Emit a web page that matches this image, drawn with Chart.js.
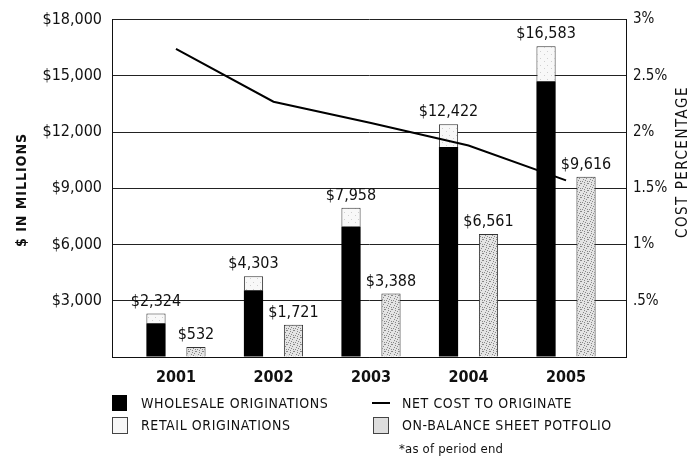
<!DOCTYPE html>
<html lang="en">
<head>
<meta charset="UTF-8">
<script src="https://cdn.jsdelivr.net/npm/chart.js"></script>
<title>Originations</title>
<style>
  body { margin: 0; background: #fff; }
  #wrap { position: relative; width: 700px; height: 459px; font-family: "DejaVu Sans Condensed", "Liberation Sans Narrow", sans-serif; color: #111; }
  canvas { position: absolute; left: 0; top: 0; }
  .key { position: absolute; }
  .lbl { position: absolute; font-size: 14px; letter-spacing: 0.6px; line-height: 16px; white-space: nowrap; }
</style>
</head>
<body>
<div id="wrap">
  <canvas id="chart" width="700" height="459"></canvas>

  <!-- legend -->
  <div class="key" style="left:112px;top:395px;width:15px;height:16px;background:#000;"></div>
  <div class="lbl" style="left:141px;top:395px;">WHOLESALE ORIGINATIONS</div>
  <div class="key" style="left:112px;top:417px;width:14px;height:15px;border:1px solid #444;background:#f7f7f7;"></div>
  <div class="lbl" style="left:141px;top:417px;">RETAIL ORIGINATIONS</div>
  <div class="key" style="left:372px;top:402px;width:18px;height:2px;background:#000;"></div>
  <div class="lbl" style="left:402px;top:395px;">NET COST TO ORIGINATE</div>
  <div class="key" style="left:373px;top:417px;width:14px;height:15px;border:1px solid #444;background:#dedede;"></div>
  <div class="lbl" style="left:402px;top:417px;">ON-BALANCE SHEET POTFOLIO</div>
  <div class="lbl" style="left:399px;top:441px;font-size:13px;letter-spacing:0.2px;">*as of period end</div>
</div>

<script>
// values ($ millions, cost in %)
const years = ['2001', '2002', '2003', '2004', '2005'];
const wholesale = [1800, 3560, 6960, 11200, 14710];
const retail = [524, 743, 998, 1222, 1873];
const onBalance = [532, 1721, 3388, 6561, 9616];
const netCost = [2.74, 2.27, 2.08, 1.88, 1.57];

const FONT = '"DejaVu Sans Condensed", "Liberation Sans Narrow", sans-serif';

// speckled fills like the printed halftone
function speckle(bg, dot, spots) {
    const c = document.createElement('canvas');
    c.width = 7; c.height = 7;
    const g = c.getContext('2d');
    g.fillStyle = bg;
    g.fillRect(0, 0, 7, 7);
    g.fillStyle = dot;
    spots.forEach(p => g.fillRect(p[0], p[1], 1, 1));
    return g.createPattern(c, 'repeat');
}
const ctx = document.getElementById('chart').getContext('2d');
const retailFill = speckle('#f8f8f8', '#cfcfcf', [[1, 2], [5, 5]]);
const balanceFill = speckle('#e4e4e4', '#888', [[0, 1], [3, 0], [5, 3], [2, 4], [6, 6], [1, 6], [4, 5], [6, 1], [3, 2]]);

const xy = arr => arr.map((v, i) => ({ x: i + 1, y: v }));

const dataLabels = {
    id: 'dataLabels',
    afterDatasetsDraw(chart) {
        const c = chart.ctx;
        c.save();
        c.font = '16px ' + FONT;
        c.fillStyle = '#111';
        c.textAlign = 'center';
        c.textBaseline = 'bottom';
        chart.getDatasetMeta(1).data.forEach((el, i) => {
            const total = wholesale[i] + retail[i];
            c.fillText('$' + total.toLocaleString('en-US'), el.x, el.y - 4);
        });
        chart.getDatasetMeta(2).data.forEach((el, i) => {
            c.fillText('$' + onBalance[i].toLocaleString('en-US'), el.x, el.y - 4);
        });
        c.restore();
    }
};

const axisTitles = {
    id: 'axisTitles',
    afterDraw(chart) {
        const c = chart.ctx;
        c.save();
        c.fillStyle = '#111';
        c.font = 'bold 14px ' + FONT;
        c.letterSpacing = '1px';
        c.textAlign = 'center';
        c.textBaseline = 'middle';
        c.translate(22, 190);
        c.rotate(-Math.PI / 2);
        c.fillText('$ IN MILLIONS', 0, 0);
        c.restore();
        c.save();
        c.fillStyle = '#111';
        c.font = '15px ' + FONT;
        c.letterSpacing = '1.5px';
        c.textAlign = 'center';
        c.textBaseline = 'middle';
        c.translate(683, 162);
        c.rotate(-Math.PI / 2);
        c.fillText('COST PERCENTAGE', 0, 0);
        c.restore();
    }
};

new Chart(ctx, {
    type: 'bar',
    data: {
        datasets: [
            {
                label: 'Wholesale Originations',
                data: xy(wholesale),
                backgroundColor: '#000',
                stack: 'orig',
                order: 1
            },
            {
                label: 'Retail Originations',
                data: xy(retail),
                backgroundColor: retailFill,
                borderColor: '#333',
                borderWidth: 1,
                stack: 'orig',
                order: 1
            },
            {
                label: 'On-Balance Sheet Portfolio',
                data: xy(onBalance),
                backgroundColor: balanceFill,
                borderColor: '#333',
                borderWidth: 1,
                stack: 'bal',
                order: 1
            },
            {
                type: 'line',
                label: 'Net Cost to Originate',
                data: xy(netCost),
                yAxisID: 'y1',
                borderColor: '#000',
                borderWidth: 2,
                pointRadius: 0,
                tension: 0,
                order: 0
            }
        ]
    },
    options: {
        responsive: false,
        animation: false,
        categoryPercentage: 0.82,
        barPercentage: 0.48,
        layout: { padding: { top: 18, bottom: 72, left: 0, right: 0 } },
        plugins: {
            legend: { display: false },
            tooltip: { enabled: false }
        },
        scales: {
            x: {
                type: 'linear',
                offset: false,
                min: 0.344,
                max: 5.615,
                afterBuildTicks: s => { s.ticks = years.map((_, i) => ({ value: i + 1 })); },
                afterFit: s => { s.height = 30; },
                grid: { display: false, drawTicks: false, offset: false },
                border: { display: true, color: '#111', width: 1 },
                ticks: {
                    padding: 11,
                    color: '#111',
                    font: { family: FONT, size: 16, weight: 'bold' },
                    callback: v => years[v - 1]
                }
            },
            y: {
                stacked: true,
                min: 0,
                max: 18000,
                afterFit: s => { s.width = 112; },
                grid: { color: '#222', lineWidth: 1, drawTicks: false },
                border: { display: true, color: '#111', width: 1 },
                ticks: {
                    stepSize: 3000,
                    padding: 10,
                    color: '#111',
                    font: { family: FONT, size: 16 },
                    callback: v => v === 0 ? '' : '$' + v.toLocaleString('en-US')
                }
            },
            y1: {
                position: 'right',
                min: 0,
                max: 3,
                afterFit: s => { s.width = 74; },
                grid: { display: false, drawTicks: false },
                border: { display: true, color: '#111', width: 1 },
                ticks: {
                    stepSize: 0.5,
                    padding: 7,
                    color: '#111',
                    font: { family: FONT, size: 15 },
                    callback: v => v === 0 ? '' : (v < 1 ? '.5' : String(v)) + '%'
                }
            }
        }
    },
    plugins: [dataLabels, axisTitles]
});
</script>
</body>
</html>
